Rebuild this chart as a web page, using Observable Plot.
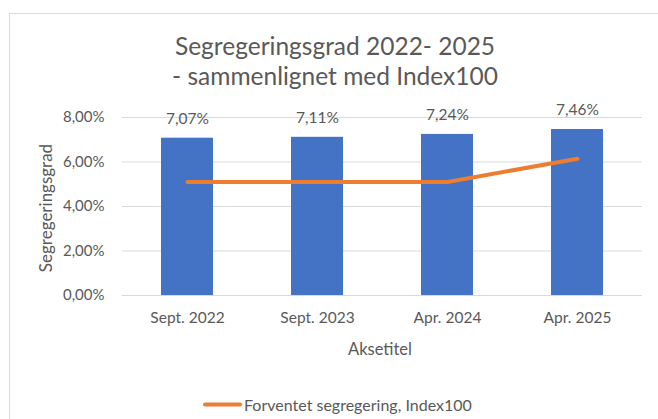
<!DOCTYPE html>
<html>
<head>
<meta charset="utf-8">
<script src="https://cdn.jsdelivr.net/npm/d3@7"></script>
<script src="https://cdn.jsdelivr.net/npm/@observablehq/plot@0.6"></script>
<style>
  html, body { margin: 0; padding: 0; background: #fff; overflow: hidden; }
  #wrap { position: relative; width: 658px; height: 419px; overflow: hidden; font-family: Lato, "Noto Sans", sans-serif; color: #595959; }
  #border { position: absolute; left: 9px; top: 13px; width: 800px; height: 600px; border: 1px solid #d9d9d9; box-sizing: border-box; }
  #title { position: absolute; left: 135px; width: 400px; top: 31px; text-align: center; font-size: 24.5px; line-height: 30px; }
  #ytitle { position: absolute; left: 45px; top: 208px; transform: translate(-50%, -50%) rotate(-90deg); font-size: 17px; white-space: nowrap; }
  #xtitle { position: absolute; left: 380px; top: 349px; transform: translate(-50%, -50%); font-size: 16.5px; white-space: nowrap; }
  #legend { position: absolute; left: 203px; top: 404px; transform: translateY(-50%); font-size: 16px; display: flex; align-items: center; white-space: nowrap; }
  #legend .sw { width: 39px; height: 4px; background: #ED7D31; border-radius: 2px; margin-right: 2px; }
  #chart { position: absolute; left: 0; top: 95px; }
</style>
</head>
<body>
<div id="wrap">
  <div id="border"></div>
  <div id="title">Segregeringsgrad 2022- 2025<br>- sammenlignet med Index100</div>
  <div id="ytitle">Segregeringsgrad</div>
  <div id="xtitle">Aksetitel</div>
  <div id="legend"><span class="sw"></span><span>Forventet segregering, Index100</span></div>
  <div id="chart"></div>
</div>
<script>
const categories = ["Sept. 2022", "Sept. 2023", "Apr. 2024", "Apr. 2025"];
const barValues = [7.07, 7.11, 7.24, 7.46];
const expectedValues = [5.1, 5.1, 5.1, 6.15];
const yTicks = [0, 2, 4, 6, 8];

const bars = categories.map((c, i) => ({cat: c, v: barValues[i]}));
const line = categories.map((c, i) => ({cat: c, v: expectedValues[i]}));
const fmt = d => d.toFixed(2).replace(".", ",") + "%";

const chart = Plot.plot({
  width: 658,
  height: 270,
  marginLeft: 122,
  marginRight: 16,
  marginTop: 22,
  marginBottom: 70,
  style: {fontFamily: "Lato, 'Noto Sans', sans-serif", fontSize: "15px", color: "#595959", background: "transparent"},
  x: {domain: categories, paddingInner: 0.6, paddingOuter: 0.3, label: null},
  y: {domain: [0, 8], label: null},
  marks: [
    Plot.ruleY(yTicks, {y: d => d, stroke: "#d9d9d9", strokeWidth: 1}),
    Plot.barY(bars, {x: "cat", y: "v", fill: "#4472C4"}),
    Plot.line(line, {x: "cat", y: "v", stroke: "#ED7D31", strokeWidth: 4, strokeLinecap: "round", strokeLinejoin: "round"}),
    Plot.text(bars, {x: "cat", y: "v", text: d => fmt(d.v), dy: -19, fill: "#595959", fontSize: 15.5}),
    Plot.axisY(yTicks, {tickSize: 0, tickPadding: 18, tickFormat: fmt, label: null, fill: "#595959", fontSize: 15}),
    Plot.axisX({tickSize: 0, tickPadding: 16, label: null, fill: "#595959", fontSize: 15.5})
  ]
});
document.getElementById("chart").appendChild(chart);
</script>
</body>
</html>
